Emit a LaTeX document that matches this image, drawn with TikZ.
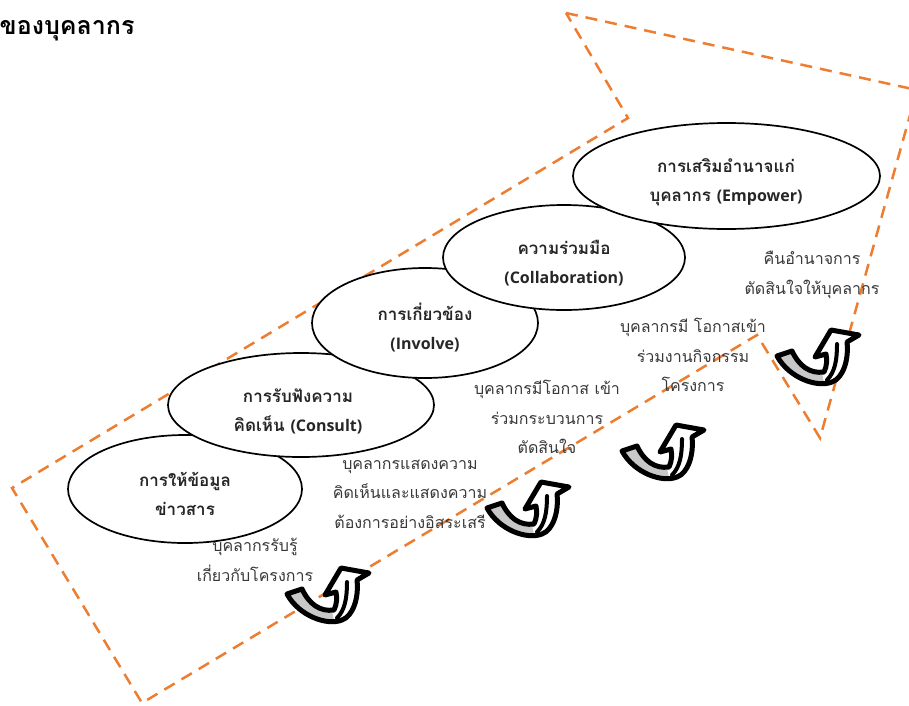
\documentclass[tikz,border=0pt]{standalone}
\usepackage{fontspec}
\usetikzlibrary{shapes.geometric}
\newfontfamily\thai[Script=Thai]{Loma}
\newfontfamily\latin{Open Sans}
\definecolor{dashorange}{RGB}{237,125,49}
\definecolor{bandgray}{RGB}{200,200,200}

\newcommand{\en}[1]{{\latin\bfseries\fontsize{16}{29}\selectfont #1}}

\tikzset{
  ell/.style={draw=black, line width=1.7pt, fill=white, ellipse, inner sep=0pt},
  etext/.style={align=center, font=\thai\bfseries\fontsize{17}{29}\selectfont, text=black!85},
  lbl/.style={align=center, font=\thai\fontsize{16}{29.5}\selectfont, text=black!78},
  guide/.style={draw=dashorange, line width=2.5pt, dash pattern=on 12pt off 8pt},
  % twisted U-turn arrow, local frame 82 x 55, y pointing down
  uturn/.pic={
    \path[fill=white]
      (0,26) -- (15,21) .. controls (22,36) and (33,44) .. (47,42)
      .. controls (50,36) and (50,30) .. (49,24) -- (38,27) -- (54,0) -- (82,5) -- (70,12)
      .. controls (72,30) and (66,48) .. (55,52)
      .. controls (40,58) and (12,48) .. cycle;
    \path[fill=bandgray]
      (0,26) -- (15,21) .. controls (22,36) and (33,44) .. (45,43)
      -- (47,53) .. controls (34,56) and (12,48) .. cycle;
    \draw[line width=5pt, line join=round]
      (0,26) -- (15,21) .. controls (22,36) and (33,44) .. (47,42)
      .. controls (50,36) and (50,30) .. (49,24) -- (38,27) -- (54,0) -- (82,5) -- (70,12)
      .. controls (72,30) and (66,48) .. (55,52)
      .. controls (40,58) and (12,48) .. cycle;
    \draw[line width=4pt, line cap=round] (60,14) .. controls (60,30) and (58,42) .. (50,50);
  }
}

\begin{document}
\begin{tikzpicture}[x=1pt,y=-1pt]
\useasboundingbox (0,0) rectangle (909,705);

% big dashed arrow outline
\begin{scope}
  \clip (0,0) rectangle (909,705);
  \draw[guide] (566,13) -- (917,90) -- (820,438) -- (757,335) -- (142,703)
    -- (12,488) -- (628,118) -- cycle;
  % title fragment
  \node[anchor=east, font=\thai\bfseries\fontsize{25}{28}\selectfont] (title) at (138,31) {ของบุคลากร};
\end{scope}

% descriptions
\node[lbl] (l1) at (255,560) {บุคลากรรับรู้\\เกี่ยวกับโครงการ};
\node[lbl] (l2) at (410,494) {บุคลากรแสดงความ\\คิดเห็นและแสดงความ\\ต้องการอย่างอิสระเสรี};
\node[lbl] (l3) at (547,417) {บุคลากรมีโอกาส เข้า\\ร่วมกระบวนการ\\ตัดสินใจ};
\node[lbl] (l4) at (693,355) {บุคลากรมี โอกาสเข้า\\ร่วมงานกิจกรรม\\โครงการ};
\node[lbl] (l5) at (812,275) {คืนอำนาจการ\\ตัดสินใจให้บุคลากร};

% step arrows
\pic at (287,568) {uturn};
\pic at (487,482) {uturn};
\pic at (622,425) {uturn};
\pic at (777,330) {uturn};

% steps, each drawn over the previous one
\node[ell, minimum width=234pt, minimum height=108pt] (e1) at (185,489) {};
\node[etext] (t1) at (185,494) {การให้ข้อมูล\\ข่าวสาร};
\node[ell, minimum width=266pt, minimum height=104pt] (e2) at (301,405) {};
\node[etext] (t2) at (298,411) {การรับฟังความ\\คิดเห็น \en{(Consult)}};
\node[ell, minimum width=226pt, minimum height=110pt] (e3) at (425,323) {};
\node[etext] (t3) at (425,328) {การเกี่ยวข้อง\\\en{(Involve)}};
\node[ell, minimum width=242pt, minimum height=105pt] (e4) at (564,257.5) {};
\node[etext] (t4) at (564,263) {ความร่วมมือ\\\en{(Collaboration)}};
\node[ell, minimum width=307pt, minimum height=106pt] (e5) at (726.5,176) {};
\node[etext] (t5) at (726,182.5) {การเสริมอำนาจแก่\\บุคลากร \en{(Empower)}};
\end{tikzpicture}
\end{document}
